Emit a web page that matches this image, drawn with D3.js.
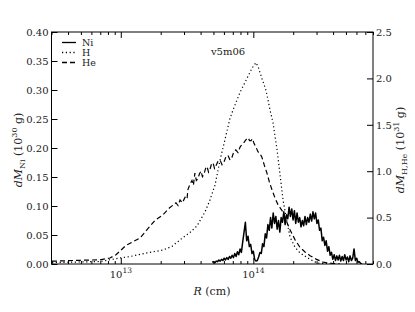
<!DOCTYPE html>
<html><head><meta charset="utf-8">
<script src="https://cdn.jsdelivr.net/npm/d3@7"></script>
<style>
html,body{margin:0;padding:0;background:#fff;}
svg{display:block;}
</style></head>
<body>
<svg id="c" width="415" height="312"></svg>
<script>
const FONT = "'DejaVu Serif', 'Liberation Serif', serif";
// ---- data (log10 R in cm) ----
const heLogR = [12.481,12.692,12.843,12.918,12.964,13.039,13.145,13.198,13.258,13.318,13.371,13.40,13.416,13.432,13.447,13.465,13.485,13.50,13.506,13.522,13.537,13.548,13.559,13.570,13.582,13.593,13.605,13.616,13.628,13.640,13.651,13.662,13.673,13.685,13.696,13.707,13.718,13.734,13.749,13.764,13.779,13.794,13.809,13.824,13.839,13.853,13.868,13.884,13.900,13.915,13.930,13.945,13.960,13.972,13.983,13.994,14.005,14.020,14.035,14.050,14.065,14.084,14.103,14.122,14.141,14.164,14.186,14.205,14.224,14.250,14.277,14.315,14.352,14.390,14.428,14.477,14.526,14.602,14.654];
const heVal  = [0.03,0.04,0.045,0.065,0.10,0.20,0.28,0.37,0.47,0.53,0.61,0.64,0.66,0.63,0.69,0.66,0.72,0.70,0.80,0.86,0.90,0.85,0.98,0.90,0.92,0.97,1.00,0.94,0.97,1.03,1.05,0.99,1.02,1.08,1.09,1.03,1.06,1.11,1.12,1.07,1.10,1.16,1.17,1.12,1.15,1.21,1.23,1.20,1.26,1.29,1.31,1.34,1.36,1.33,1.33,1.35,1.30,1.26,1.21,1.19,1.15,1.06,0.98,0.88,0.80,0.71,0.64,0.60,0.56,0.46,0.37,0.26,0.18,0.13,0.09,0.05,0.02,0.005,0.0];

const hLogR = [12.481,12.843,12.994,13.069,13.198,13.318,13.386,13.447,13.522,13.575,13.635,13.673,13.711,13.749,13.786,13.824,13.847,13.900,13.952,13.990,14.020,14.035,14.065,14.096,14.126,14.149,14.179,14.202,14.224,14.255,14.277,14.315,14.352,14.428,14.481,14.579];
const hVal  = [0.015,0.027,0.065,0.08,0.12,0.15,0.19,0.26,0.34,0.41,0.56,0.69,0.85,1.12,1.34,1.57,1.66,1.85,2.00,2.11,2.17,2.13,2.00,1.87,1.66,1.52,1.23,0.96,0.69,0.45,0.29,0.18,0.12,0.05,0.01,0.0];

const niLogR = d3.range(114).map(i => 13.69 + i*0.01);
const niVal  = [0.003,0.004,0.002,0.005,0.004,0.007,0.005,0.008,0.006,0.010,
  0.007,0.011,0.008,0.013,0.010,0.015,0.011,0.018,0.013,0.021,
  0.016,0.026,0.020,0.038,0.055,0.072,0.040,0.048,0.030,0.034,
  0.018,0.022,0.008,0.005,0.006,0.012,0.020,0.018,0.035,0.030,
  0.052,0.045,0.068,0.058,0.080,0.062,0.088,0.070,0.082,0.060,
  0.075,0.055,0.080,0.072,0.090,0.068,0.085,0.078,0.098,0.082,
  0.095,0.076,0.092,0.070,0.088,0.072,0.080,0.064,0.075,0.066,
  0.082,0.068,0.080,0.072,0.086,0.074,0.090,0.078,0.088,0.070,
  0.076,0.058,0.062,0.040,0.046,0.032,0.040,0.022,0.030,0.015,
  0.020,0.008,0.016,0.006,0.014,0.007,0.015,0.005,0.013,0.006,
  0.016,0.007,0.012,0.004,0.014,0.006,0.010,0.026,0.006,0.010,
  0.003,0.004,0.001,0.0];

const leftTicks = [0,0.05,0.10,0.15,0.20,0.25,0.30,0.35,0.40];
const rightTicks = [0,0.5,1.0,1.5,2.0,2.5];
const majorX = [1e13,1e14];

// ---- layout ----
const svg = d3.select("#c");
const L=51.5, R=373, T=32, B=264;
const x = d3.scaleLog().domain([3e12,8e14]).range([L,R]);
const yL = d3.scaleLinear().domain([0,0.4]).range([B,T]);
const yR = d3.scaleLinear().domain([0,2.5]).range([B,T]);

const minorX = x.ticks().filter(v => !majorX.some(m=>Math.abs(m-v)/m<1e-6));

function styleAxis(g){
  g.attr("font-family",FONT).attr("font-size",10);
  g.select(".domain").remove();
  g.selectAll("line").attr("stroke","#000").attr("stroke-width",1);
  g.selectAll("text").attr("fill","#222");
}
svg.append("g").attr("transform",`translate(0,${B})`)
  .call(d3.axisBottom(x).tickValues(majorX).tickSize(-6).tickFormat("")).call(styleAxis);
svg.append("g").attr("transform",`translate(0,${B})`)
  .call(d3.axisBottom(x).tickValues(minorX).tickSize(-3).tickFormat("")).call(styleAxis);
svg.append("g").attr("transform",`translate(0,${T})`)
  .call(d3.axisTop(x).tickValues(majorX).tickSize(-6).tickFormat("")).call(styleAxis);
svg.append("g").attr("transform",`translate(0,${T})`)
  .call(d3.axisTop(x).tickValues(minorX).tickSize(-3).tickFormat("")).call(styleAxis);
svg.append("g").attr("transform",`translate(${L},0)`)
  .call(d3.axisLeft(yL).tickValues(leftTicks).tickSize(-6).tickPadding(3).tickFormat(d3.format(".2f"))).call(styleAxis);
svg.append("g").attr("transform",`translate(${R},0)`)
  .call(d3.axisRight(yR).tickValues(rightTicks).tickSize(-6).tickPadding(3).tickFormat(d3.format(".1f"))).call(styleAxis);

const txt = (sel)=>sel.attr("font-family",FONT).attr("fill","#222");

majorX.forEach(v=>{
  const t = svg.append("text").attr("x",x(v)).attr("y",278).attr("text-anchor","middle").attr("font-size",10).call(txt);
  t.append("tspan").text("10");
  t.append("tspan").attr("dy",-5).attr("font-size",7.5).text(Math.round(Math.log10(v)));
});

svg.append("rect").attr("x",L).attr("y",T).attr("width",R-L).attr("height",B-T)
  .attr("fill","none").attr("stroke","#000").attr("stroke-width",1);

const line = (ys)=>d3.line().x(d=>x(Math.pow(10,d[0]))).y(d=>ys(d[1]));
svg.append("clipPath").attr("id","cp").append("rect").attr("x",L).attr("y",T).attr("width",R-L).attr("height",B-T);
const plot = svg.append("g").attr("clip-path","url(#cp)");
plot.append("path").datum(d3.zip(heLogR,heVal)).attr("d",line(yR))
  .attr("fill","none").attr("stroke","#000").attr("stroke-width",1.2).attr("stroke-dasharray","5,3");
plot.append("path").datum(d3.zip(hLogR,hVal)).attr("d",line(yR))
  .attr("fill","none").attr("stroke","#000").attr("stroke-width",1.2).attr("stroke-dasharray","1.2,2.6");
plot.append("path").datum(d3.zip(niLogR,niVal)).attr("d",line(yL))
  .attr("fill","none").attr("stroke","#000").attr("stroke-width",1.5).attr("stroke-linejoin","round");

const leg = [["Ni",null,42.5],["H","1.2,2.6",52.5],["He","5,3",62.5]];
leg.forEach(([lab,da,yy])=>{
  const l = svg.append("line").attr("x1",62).attr("x2",76).attr("y1",yy).attr("y2",yy)
    .attr("stroke","#000").attr("stroke-width",1.3);
  if(da) l.attr("stroke-dasharray",da);
  svg.append("text").attr("x",82).attr("y",yy+3).attr("font-size",9.5).call(txt).text(lab);
});

svg.append("text").attr("x",228).attr("y",55).attr("text-anchor","middle").attr("font-size",10).call(txt).text("v5m06");

const xl = svg.append("text").attr("x",212).attr("y",295).attr("text-anchor","middle").attr("font-size",11).call(txt);
xl.append("tspan").attr("font-style","italic").text("R");
xl.append("tspan").text(" (cm)");

function ylab(xpos, sub, exp){
  const t = svg.append("text").attr("transform",`translate(${xpos},150) rotate(-90)`).attr("text-anchor","middle").attr("font-size",11).call(txt);
  t.append("tspan").attr("font-style","italic").text("dM");
  t.append("tspan").attr("dy",3).attr("font-size",8).text(sub);
  t.append("tspan").attr("dy",-3).text(" (10");
  t.append("tspan").attr("dy",-5).attr("font-size",8).text(exp);
  t.append("tspan").attr("dy",5).text(" g)");
}
ylab(22,"Ni","30");
ylab(404,"H,He","31");
</script>
</body></html>
